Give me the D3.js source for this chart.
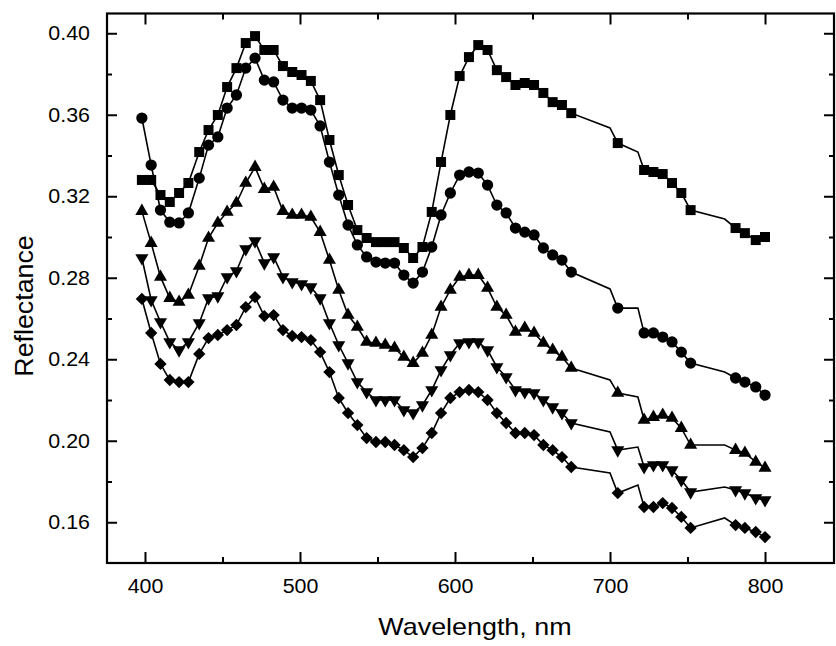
<!DOCTYPE html>
<html>
<head>
<meta charset="utf-8">
<title>Reflectance spectra</title>
<script src="https://d3js.org/d3.v7.min.js"></script>
<style>
body { margin: 0; background: #fff; }
</style>
</head>
<body>
<div id="canvas-1"></div>
<script>

// wavelength grid, nm (same for all curves)
var wavelengths = [398, 404, 410, 416, 422, 428, 435, 441, 447, 453, 459, 465, 471, 477, 483, 489, 495, 501, 507, 513,
  519, 525, 531, 537, 543, 549, 555, 561, 567, 573, 579, 585, 591, 597, 603, 609, 615, 621, 627, 633,
  639, 645, 651, 657, 663, 669, 675, 700, 705, 718, 722, 728, 734, 740, 746, 752, 774, 781, 787, 794, 800];

// points where the line bends but no marker is drawn
var unmarked = [700, 718, 774];

// reflectance, one array per curve (top to bottom)
var reflSquare = [0.328, 0.328, 0.3206, 0.3172, 0.3216, 0.3265, 0.3417, 0.3525, 0.3599, 0.3736, 0.3829, 0.3952, 0.3986, 0.3918, 0.3918, 0.3839, 0.381, 0.3795, 0.3766, 0.3672,
  0.3476, 0.3304, 0.3157, 0.3034, 0.2995, 0.2975, 0.2975, 0.2975, 0.2946, 0.2897, 0.2951, 0.3123, 0.3368, 0.3599, 0.379, 0.3883, 0.3942, 0.3918, 0.3819, 0.3785,
  0.3746, 0.3756, 0.3746, 0.3707, 0.3662, 0.3648, 0.3608, 0.3535, 0.3461, 0.3417, 0.3329, 0.3319, 0.3309, 0.3265, 0.3216, 0.3132, 0.3088, 0.3044, 0.3019, 0.2985, 0.300];
var reflCircle = [0.3584, 0.3353, 0.3132, 0.3073, 0.3069, 0.3118, 0.3289, 0.3451, 0.3491, 0.3633, 0.3697, 0.3829, 0.3878, 0.377, 0.3761, 0.3672, 0.3633, 0.3633, 0.3623, 0.3545,
  0.3368, 0.3206, 0.3059, 0.2961, 0.2902, 0.2877, 0.2872, 0.2872, 0.2813, 0.2774, 0.2828, 0.2951, 0.3108, 0.3216, 0.3304, 0.3319, 0.3314, 0.3255, 0.3157, 0.3118,
  0.3044, 0.3024, 0.301, 0.2946, 0.2912, 0.2887, 0.2828, 0.2745, 0.2651, 0.2651, 0.2529, 0.2529, 0.2509, 0.2485, 0.2435, 0.2381, 0.2337, 0.2308, 0.2288, 0.2264, 0.2224];
var reflTriUp = [0.3127, 0.297, 0.2804, 0.27, 0.2681, 0.2715, 0.2858, 0.2995, 0.3069, 0.3123, 0.3167, 0.3265, 0.3343, 0.3235, 0.3245, 0.3127, 0.3108, 0.3108, 0.3098, 0.3024,
  0.2887, 0.274, 0.2617, 0.2558, 0.2485, 0.248, 0.247, 0.2455, 0.2411, 0.2381, 0.2431, 0.2519, 0.2656, 0.274, 0.2804, 0.2813, 0.2813, 0.275, 0.2656, 0.2617,
  0.2534, 0.2553, 0.2529, 0.248, 0.2445, 0.2411, 0.2357, 0.2298, 0.2234, 0.2215, 0.2102, 0.2116, 0.2126, 0.2112, 0.2062, 0.1979, 0.1979, 0.1954, 0.194, 0.1896, 0.1866];
var reflTriDown = [0.2897, 0.2691, 0.2583, 0.2485, 0.2445, 0.2485, 0.2578, 0.27, 0.271, 0.2804, 0.2833, 0.2941, 0.298, 0.2872, 0.2902, 0.2804, 0.2779, 0.2769, 0.2754, 0.27,
  0.2578, 0.247, 0.2381, 0.2288, 0.2239, 0.22, 0.22, 0.22, 0.2151, 0.2136, 0.2175, 0.2249, 0.2347, 0.2421, 0.248, 0.2485, 0.2485, 0.2445, 0.2362, 0.2313,
  0.2249, 0.2239, 0.2234, 0.22, 0.2165, 0.2136, 0.2087, 0.2043, 0.1954, 0.1969, 0.1871, 0.1881, 0.1881, 0.1856, 0.1807, 0.1748, 0.1773, 0.1758, 0.1743, 0.1719, 0.1709];
var reflDiamond = [0.2696, 0.2529, 0.2377, 0.2298, 0.2288, 0.2288, 0.2426, 0.2504, 0.2519, 0.2543, 0.2568, 0.2656, 0.2705, 0.2612, 0.2617, 0.2543, 0.2514, 0.2509, 0.2494, 0.2435,
  0.2337, 0.221, 0.2136, 0.2077, 0.2013, 0.1994, 0.1994, 0.1979, 0.1954, 0.192, 0.1964, 0.2038, 0.2136, 0.221, 0.2239, 0.2249, 0.2239, 0.22, 0.2136, 0.2087,
  0.2038, 0.2038, 0.2028, 0.1979, 0.1954, 0.192, 0.1871, 0.1842, 0.1743, 0.1783, 0.1675, 0.1675, 0.1694, 0.167, 0.1626, 0.1572, 0.1621, 0.1586, 0.1572, 0.1552, 0.1527];

// tick values
var xMajor = [400, 500, 600, 700, 800];
var xMinor = [450, 550, 650, 750];
var yMajor = [0.16, 0.20, 0.24, 0.28, 0.32, 0.36, 0.40];
var yMinor = [0.18, 0.22, 0.26, 0.30, 0.34, 0.38];

var xTitle = "Wavelength, nm";
var yTitle = "Reflectance";

var width = 836;
var height = 646;
var frame = { left: 107, right: 834, top: 13.5, bottom: 563 };

var curves = [
  { values: reflSquare, marker: "square" },
  { values: reflCircle, marker: "circle" },
  { values: reflTriUp, marker: "triUp" },
  { values: reflTriDown, marker: "triDown" },
  { values: reflDiamond, marker: "diamond" }
];

var x = d3.scaleLinear().domain([375.5, 844.5]).range([frame.left, frame.right]);
var y = d3.scaleLinear().domain([0.14, 0.4097]).range([frame.bottom, frame.top]);

var svg = d3.select("#canvas-1")
  .append("svg")
  .attr("width", width)
  .attr("height", height)
  .style("background", "#fff");

drawAxes();
curves.forEach(drawCurve);

// frame + ticks on all four sides
function drawAxes() {
  svg.append("rect")
    .attr("x", frame.left)
    .attr("y", frame.top)
    .attr("width", frame.right - frame.left)
    .attr("height", frame.bottom - frame.top)
    .attr("fill", "none")
    .attr("stroke", "#000")
    .attr("stroke-width", 2.2);

  var fmtY = d3.format(".2f");

  addAxis(d3.axisBottom(x).tickValues(xMajor).tickSizeInner(-11).tickPadding(16).tickFormat(d3.format("d")), 0, frame.bottom, 20);
  addAxis(d3.axisBottom(x).tickValues(xMinor).tickSizeInner(-6).tickFormat(""), 0, frame.bottom);
  addAxis(d3.axisTop(x).tickValues(xMajor).tickSizeInner(-11).tickFormat(""), 0, frame.top);
  addAxis(d3.axisTop(x).tickValues(xMinor).tickSizeInner(-6).tickFormat(""), 0, frame.top);

  addAxis(d3.axisLeft(y).tickValues(yMajor).tickSizeInner(-10).tickPadding(17).tickFormat(fmtY), frame.left, 0, 20);
  addAxis(d3.axisLeft(y).tickValues(yMinor).tickSizeInner(-5).tickFormat(""), frame.left, 0);
  addAxis(d3.axisRight(y).tickValues(yMajor).tickSizeInner(-10).tickFormat(""), frame.right, 0);
  addAxis(d3.axisRight(y).tickValues(yMinor).tickSizeInner(-5).tickFormat(""), frame.right, 0);

  // axis titles
  svg.append("text")
    .text(xTitle)
    .attr("x", 475)
    .attr("y", 635)
    .attr("text-anchor", "middle")
    .style("font-family", "Arial, 'Liberation Sans', sans-serif")
    .style("font-size", "24px")
    .call(stretch, 1.12);

  svg.append("text")
    .text(yTitle)
    .attr("transform", "translate(33,306) rotate(-90)")
    .attr("text-anchor", "middle")
    .style("font-family", "Arial, 'Liberation Sans', sans-serif")
    .style("font-size", "26px")
    .call(stretch, 1.03);
}

function addAxis(axis, tx, ty, fontSize) {
  var g = svg.append("g")
    .attr("transform", `translate(${tx},${ty})`)
    .call(axis.tickSizeOuter(0));
  g.select(".domain").remove();
  g.selectAll(".tick line").attr("stroke", "#000").attr("stroke-width", 2);
  if (fontSize) {
    g.selectAll(".tick text")
      .attr("fill", "#000")
      .style("font-family", "Arial, 'Liberation Sans', sans-serif")
      .style("font-size", fontSize + "px")
      .call(stretch, 1.07);
  }
}

// scanned text is a bit wider than the font
function stretch(selection, k) {
  selection.each(function() {
    var w = this.getComputedTextLength();
    d3.select(this).attr("textLength", w * k).attr("lengthAdjust", "spacingAndGlyphs");
  });
}

function markerPath(type) {
  if (type === "square") return d3.symbol(d3.symbolSquare, 100)();
  if (type === "circle") return d3.symbol(d3.symbolCircle, 100)();
  if (type === "diamond") return d3.symbol(d3.symbolSquare, 76)();
  return d3.symbol(d3.symbolTriangle, 74)();
}

function markerRotate(type) {
  if (type === "diamond") return 45;
  if (type === "triDown") return 180;
  return 0;
}

function drawCurve(curve) {
  var pts = wavelengths.map((w, i) => ({ w: w, r: curve.values[i] }));

  var line = d3.line()
    .x(d => x(d.w))
    .y(d => y(d.r));

  svg.append("path")
    .datum(pts)
    .attr("d", line)
    .attr("fill", "none")
    .attr("stroke", "#000")
    .attr("stroke-width", 1.6);

  var path = markerPath(curve.marker);
  var rot = markerRotate(curve.marker);

  svg.append("g")
    .selectAll("path")
    .data(pts.filter(d => unmarked.indexOf(d.w) < 0))
    .enter()
    .append("path")
    .attr("d", path)
    .attr("transform", d => `translate(${x(d.w)},${y(d.r)}) rotate(${rot})`)
    .attr("fill", "#000");
}

</script>
</body>
</html>
